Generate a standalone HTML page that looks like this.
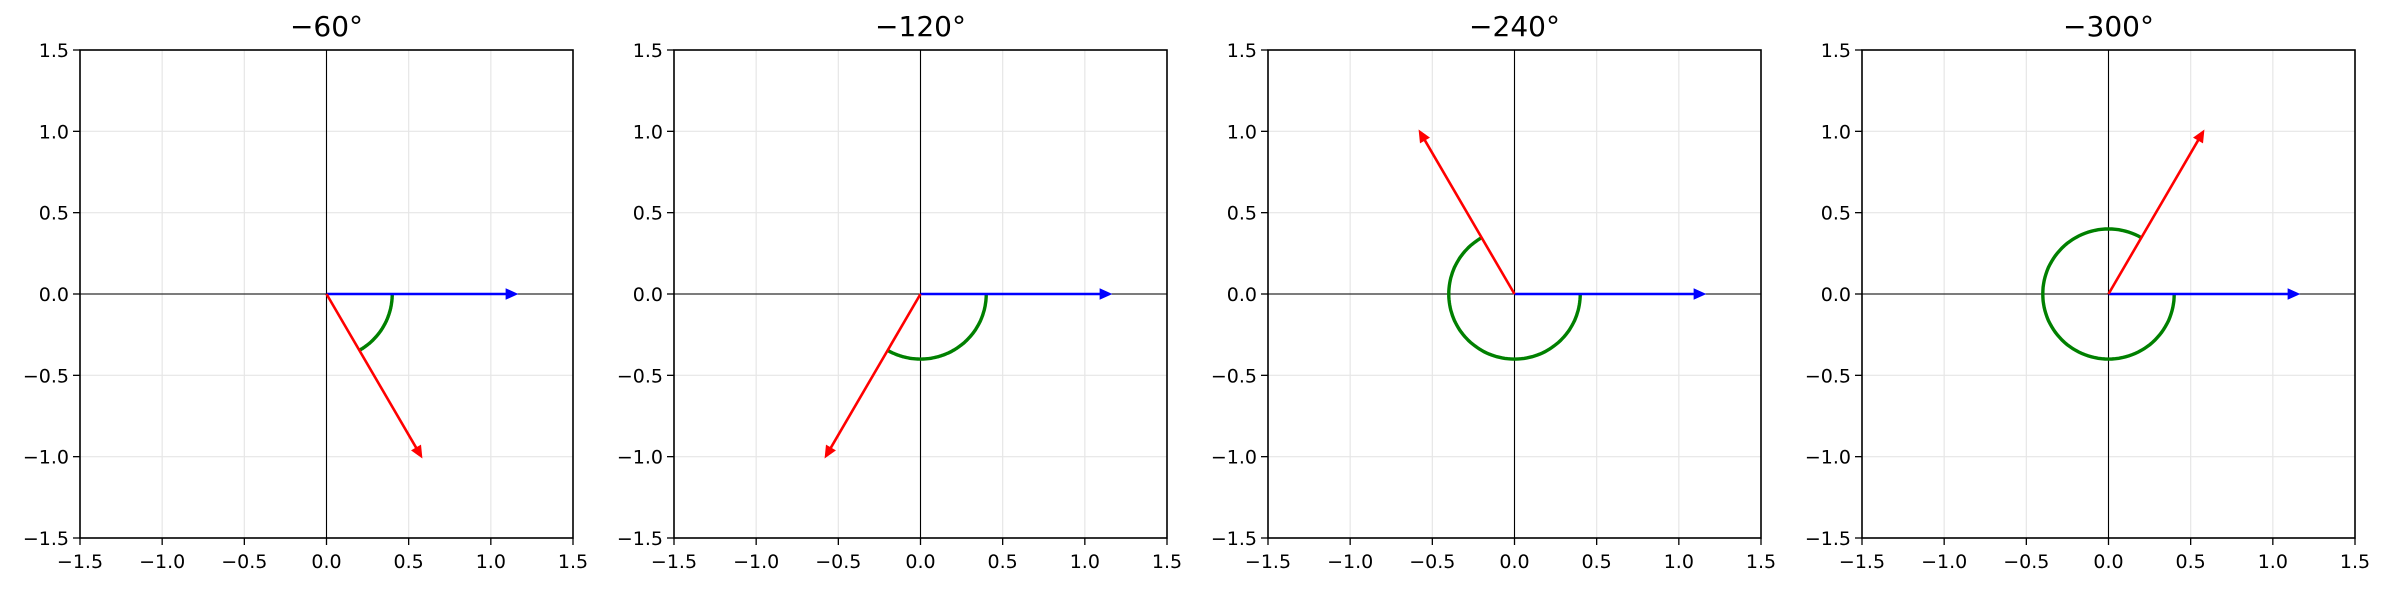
<!DOCTYPE html>
<html><head><meta charset="utf-8"><style>
body{margin:0;background:#fff;}
svg text{font-family:"DejaVu Sans","Liberation Sans",sans-serif;fill:#000;}
</style></head><body>
<svg id="s" width="2385" height="589" xmlns="http://www.w3.org/2000/svg"></svg>
<script>
const s=document.getElementById('s');let h='';
const T=50,H=488,W=493;
const angs=[-60,-120,-240,-300],titles=['\u221260°','\u2212120°','\u2212240°','\u2212300°'];
function lab(v){return (v<0?'\u2212':'')+Math.abs(v).toFixed(1);}
angs.forEach((a,i)=>{
 const L=80+594*i;
 const X=x=>L+(x+1.5)*W/3, Y=y=>T+(1.5-y)*H/3;
 for(let k=-3;k<=3;k++){const v=k*0.5;
  h+=`<line x1="${X(v)}" y1="${T}" x2="${X(v)}" y2="${T+H}" stroke="#e6e6e6" stroke-width="1.2"/>`;
  h+=`<line x1="${L}" y1="${Y(v)}" x2="${L+W}" y2="${Y(v)}" stroke="#e6e6e6" stroke-width="1.2"/>`;
  h+=`<line x1="${X(v)}" y1="${T+H}" x2="${X(v)}" y2="${T+H+7}" stroke="#000" stroke-width="1.3"/>`;
  h+=`<line x1="${L-7}" y1="${Y(v)}" x2="${L}" y2="${Y(v)}" stroke="#000" stroke-width="1.3"/>`;
  h+=`<text x="${X(v)}" y="${T+H+30}" font-size="19" text-anchor="middle">${lab(v)}</text>`;
  h+=`<text x="${L-11}" y="${Y(v)+7}" font-size="19" text-anchor="end">${lab(v)}</text>`;
 }
 h+=`<line x1="${X(0)}" y1="${T}" x2="${X(0)}" y2="${T+H}" stroke="#000" stroke-width="1.1"/>`;
 h+=`<line x1="${L}" y1="${Y(0)}" x2="${L+W}" y2="${Y(0)}" stroke="#000" stroke-width="1.1"/>`;
 let pts=[];for(let j=0;j<=100;j++){const t=a*j/100*Math.PI/180;pts.push(X(0.4*Math.cos(t)).toFixed(1)+','+Y(0.4*Math.sin(t)).toFixed(1));}
 h+=`<polyline points="${pts.join(' ')}" fill="none" stroke="#008000" stroke-width="3.4"/>`;
 function arrow(x2,y2,c){const x1=X(0),y1=Y(0),px=X(x2),py=Y(y2);
  const dx=px-x1,dy=py-y1,l=Math.hypot(dx,dy),ux=dx/l,uy=dy/l,hl=11,hw=5;
  const bx=px-ux*hl,by=py-uy*hl;
  h+=`<line x1="${x1}" y1="${y1}" x2="${bx}" y2="${by}" stroke="${c}" stroke-width="2.6"/>`;
  h+=`<polygon points="${px},${py} ${bx-uy*hw},${by+ux*hw} ${bx+uy*hw},${by-ux*hw}" fill="${c}" stroke="${c}" stroke-width="1"/>`;}
 arrow(1.16,0,'#0000ff');
 const r=a*Math.PI/180;arrow(1.16*Math.cos(r),1.16*Math.sin(r),'#ff0000');
 h+=`<rect x="${L}" y="${T}" width="${W}" height="${H}" fill="none" stroke="#000" stroke-width="1.6"/>`;
 h+=`<text x="${L+W/2}" y="36" font-size="28" text-anchor="middle">${titles[i]}</text>`;
});
s.innerHTML=h;
</script>
</body></html>
